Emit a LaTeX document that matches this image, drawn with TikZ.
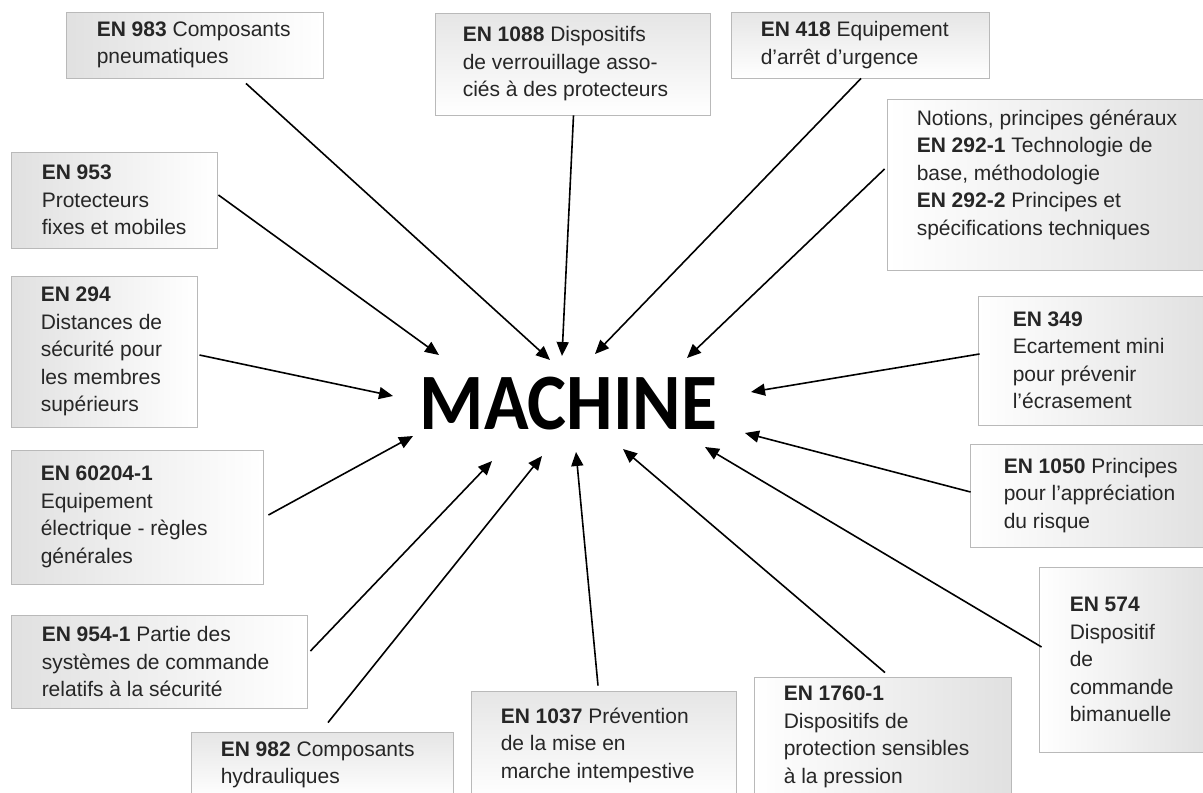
\documentclass[tikz,border=0pt]{standalone}
\usepackage{fontspec}
\setmainfont{Liberation Sans}
\newfontfamily\carlito{Carlito}
\usetikzlibrary{arrows.meta,calc}
\tikzset{
  box/.style={draw=gray!55, line width=0.9pt, inner sep=0pt},
  lshade/.style={left color=gray!24, right color=white},
  rshade/.style={left color=white, right color=gray!24},
  tshade/.style={top color=gray!20, bottom color=white},
  txt/.style={anchor=west, align=left, inner sep=0pt, text=black!85, font=\fontsize{21}{27.5}\selectfont},
  arr/.style={line width=1.6pt, -{Triangle[length=14pt,width=12pt]}},
}
\begin{document}
\begin{tikzpicture}[x=1pt,y=-1pt]
\useasboundingbox (0,0) rectangle (1203,793);

% central word
\node[anchor=base, inner sep=0pt, font=\fontsize{80}{80}\selectfont\carlito\bfseries] (machine) at (568.5,429) {\scalebox{0.92}[1]{MACHINE}};

% boxes
\node[box,lshade,minimum width=257pt,minimum height=66pt] (en983) at (194.5,45) {};
\node[box,tshade,minimum width=275pt,minimum height=102pt] (en1088) at (572.5,64) {};
\node[box,tshade,minimum width=258pt,minimum height=66pt] (en418) at (860,45) {};
\node[box,rshade,minimum width=323pt,minimum height=171pt] (en292) at (1048.5,184.5) {};
\node[box,lshade,minimum width=206pt,minimum height=96pt] (en953) at (114,200) {};
\node[box,lshade,minimum width=186pt,minimum height=151pt] (en294) at (104,351.5) {};
\node[box,lshade,minimum width=252pt,minimum height=134pt] (en60204) at (137,517) {};
\node[box,lshade,minimum width=296pt,minimum height=93pt] (en954) at (159,661.5) {};
\node[box,tshade,minimum width=262pt,minimum height=66pt] (en982) at (322,765) {};
\node[box,tshade,minimum width=265pt,minimum height=108pt] (en1037) at (603.5,745) {};
\node[box,rshade,minimum width=257pt,minimum height=120pt] (en1760) at (882.5,737) {};
\node[box,rshade,minimum width=232pt,minimum height=129pt] (en349) at (1094,360.5) {};
\node[box,rshade,minimum width=240pt,minimum height=103pt] (en1050) at (1090,495.5) {};
\node[box,rshade,minimum width=171pt,minimum height=185pt] (en574) at (1124.5,659.5) {};

% texts
\node[txt] (t983) at ([xshift=31pt]en983.west) {\textbf{EN 983} Composants\\pneumatiques};
\node[txt] (t1088) at ([xshift=28pt]en1088.west) {\textbf{EN 1088} Dispositifs\\de verrouillage asso-\\ciés à des protecteurs};
\node[txt] (t418) at ([xshift=30pt]en418.west) {\textbf{EN 418} Equipement\\d’arrêt d’urgence};
\node[txt] (t292) at ([xshift=30pt,yshift=10pt]en292.west) {Notions, principes généraux\\\textbf{EN 292-1} Technologie de\\base, méthodologie\\\textbf{EN 292-2} Principes et\\spécifications techniques};
\node[txt] (t953) at ([xshift=31pt]en953.west) {\textbf{EN 953}\\Protecteurs\\fixes et mobiles};
\node[txt] (t294) at ([xshift=30pt]en294.west) {\textbf{EN 294}\\Distances de\\sécurité pour\\les membres\\supérieurs};
\node[txt] (t60204) at ([xshift=30pt]en60204.west) {\textbf{EN 60204-1}\\Equipement\\électrique - règles\\générales};
\node[txt] (t954) at ([xshift=31pt]en954.west) {\textbf{EN 954-1} Partie des\\systèmes de commande\\relatifs à la sécurité};
\node[txt] (t982) at ([xshift=30pt]en982.west) {\textbf{EN 982} Composants\\hydrauliques};
\node[txt] (t1037) at ([xshift=30pt]en1037.west) {\textbf{EN 1037} Prévention\\de la mise en\\marche intempestive};
\node[txt] (t1760) at ([xshift=30pt]en1760.west) {\textbf{EN 1760-1}\\Dispositifs de\\protection sensibles\\à la pression};
\node[txt] (t349) at ([xshift=35pt]en349.west) {\textbf{EN 349}\\Ecartement mini\\pour prévenir\\l’écrasement};
\node[txt] (t1050) at ([xshift=34pt]en1050.west) {\textbf{EN 1050} Principes\\pour l’appréciation\\du risque};
\node[txt] (t574) at ([xshift=31pt]en574.west) {\textbf{EN 574}\\Dispositif\\de\\commande\\bimanuelle};

% arrow tips around MACHINE
\coordinate (a983) at (550,360);
\coordinate (a1088) at (562,356);
\coordinate (a418) at (595,354);
\coordinate (a292) at (687,358);
\coordinate (a953) at (439,355);
\coordinate (a294) at (393,396);
\coordinate (a60204) at (413,436);
\coordinate (a954) at (492,461);
\coordinate (a982) at (542,456);
\coordinate (a1037) at (576,452);
\coordinate (a1760) at (623,449);
\coordinate (a574) at (705,447);
\coordinate (a1050) at (745,433);
\coordinate (a349) at (751,392);

% connectors
\draw[arr] ([xshift=51.5pt,yshift=-5pt]en983.south) -- (a983);
\draw[arr] ([xshift=1pt]en1088.south) -- (a1088);
\draw[arr] ([xshift=1pt]en418.south) -- (a418);
\draw[arr] ([xshift=-2pt,yshift=15.5pt]en292.west) -- (a292);
\draw[arr] ([xshift=1pt,yshift=5pt]en953.east) -- (a953);
\draw[arr] ([xshift=2pt,yshift=-3.5pt]en294.east) -- (a294);
\draw[arr] ([xshift=5pt,yshift=2pt]en60204.east) -- (a60204);
\draw[arr] ([xshift=3pt,yshift=10.5pt]en954.east) -- (a954);
\draw[arr] ([xshift=6pt,yshift=9pt]en982.north) -- (a982);
\draw[arr] ([xshift=-5.5pt,yshift=5pt]en1037.north) -- (a1037);
\draw[arr] ([xshift=2.5pt,yshift=4pt]en1760.north) -- (a1760);
\draw[arr] ([xshift=3pt,yshift=12.5pt]en574.west) -- (a574);
\draw[arr] ([xshift=1pt,yshift=3.5pt]en1050.west) -- (a1050);
\draw[arr] ([xshift=2pt,yshift=6.5pt]en349.west) -- (a349);
\end{tikzpicture}
\end{document}
